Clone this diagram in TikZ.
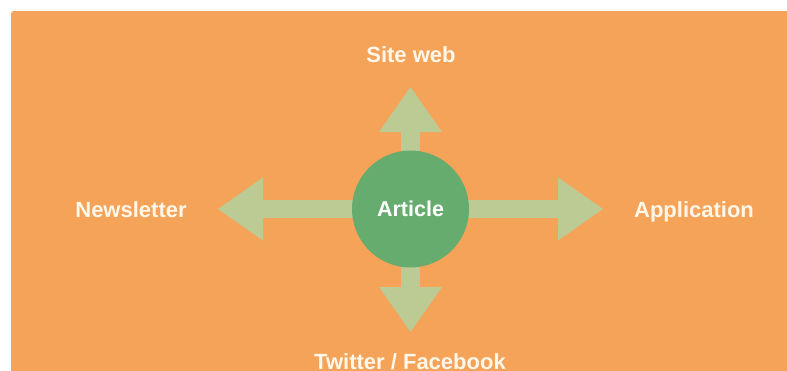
\documentclass[tikz,border=0pt]{standalone}
\usepackage{fontspec}
\setmainfont{Liberation Sans}
\usetikzlibrary{arrows.meta}
\definecolor{bgorange}{HTML}{F4A358}
\definecolor{circgreen}{HTML}{66AC6E}
\definecolor{arrgreen}{HTML}{BCCB94}
\definecolor{labcream}{HTML}{FFF8EA}
\tikzset{
  bigarrow/.style={draw=arrgreen, line width=18.5pt,
    -{Triangle[length=45pt, width=63pt, line width=0pt, fill=arrgreen]}},
  hub/.style={circle, fill=circgreen, minimum size=117pt, inner sep=0pt,
    text=white, font=\bfseries\fontsize{21.5}{24}\selectfont},
  lab/.style={text=labcream, font=\bfseries\fontsize{22}{24}\selectfont,
    inner sep=0pt, anchor=base}
}
\begin{document}
\begin{tikzpicture}[x=1pt,y=-1pt]
\useasboundingbox (0,0) rectangle (787,370);
\fill[bgorange, rounded corners=3pt] (11,11) rectangle (800,380);
\coordinate (c) at (410.5,209);
\coordinate (tipN) at (410.5,87);
\coordinate (tipS) at (410.5,332);
\coordinate (tipW) at (218,209);
\coordinate (tipE) at (603,209);
\draw[bigarrow] (c) -- (tipN);
\draw[bigarrow] (c) -- (tipS);
\draw[bigarrow] (c) -- (tipW);
\draw[bigarrow] (c) -- (tipE);
\node[hub] (art) at (c) {Article};
\node[lab] (site) at (411,62) {Site web};
\node[lab] (news) at (131,217) {Newsletter};
\node[lab] (app) at (694,217) {Application};
\node[lab] (tw) at (410,369) {Twitter / Facebook};
\end{tikzpicture}
\end{document}
